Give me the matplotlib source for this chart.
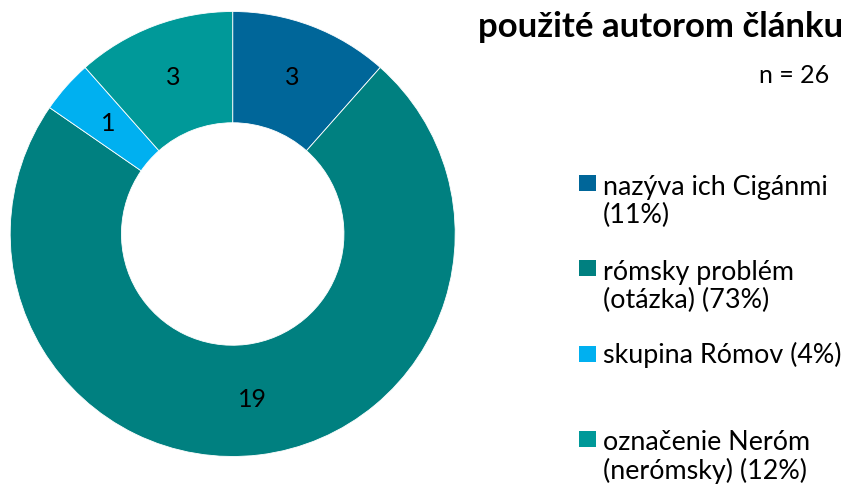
import numpy as np
import matplotlib.pyplot as plt
from matplotlib.patches import Rectangle

plt.rcParams['font.family'] = ['Lato', 'DejaVu Sans']

# data
categories = ["nazýva ich Cigánmi\n(11%)", "rómsky problém\n(otázka) (73%)",
              "skupina Rómov (4%)", "označenie Neróm\n(nerómsky) (12%)"]
counts = [3, 19, 1, 3]
colors = ["#006699", "#008080", "#00B0F0", "#009999"]
title = "použité autorom článku"
subtitle = "n = 26"

W, H = 848, 491
fig = plt.figure(figsize=(W / 100, H / 100), dpi=100)

# donut axes (pixel geometry)
cx, cy, r = 232.7, 234, 222.5
ax = fig.add_axes([(cx - r) / W, (H - cy - r) / H, 2 * r / W, 2 * r / H])
wedges, texts = ax.pie(counts, colors=colors, startangle=90, counterclock=False,
                       radius=1.0, wedgeprops=dict(width=0.5, linewidth=0.6, edgecolor="white"))
for w, v in zip(wedges, counts):
    ang = np.deg2rad((w.theta1 + w.theta2) / 2)
    ax.text(0.75 * np.cos(ang), 0.75 * np.sin(ang), str(v), ha="center", va="center",
            fontsize=18, color="black")
ax.set_xlim(-1, 1)
ax.set_ylim(-1, 1)
ax.set_aspect("equal")
ax.axis("off")

# title
fig.text(843 / W, 1 - 37 / H, title, ha="right", va="baseline", fontsize=25, fontweight="bold")
fig.text(829 / W, 1 - 83 / H, subtitle, ha="right", va="baseline", fontsize=18)

# legend, placed by hand (y = baseline of first line, px from top)
ys = [192, 277, 363, 448]
line_px = 31
for lab, col, y in zip(categories, colors, ys):
    fig.patches.append(Rectangle((579 / W, 1 - (y - 1) / H), 17 / W, 16 / H,
                                 transform=fig.transFigure, facecolor=col, edgecolor="none"))
    y_last = y + lab.count("\n") * line_px
    fig.text(603 / W, 1 - y_last / H, lab, ha="left", va="baseline", fontsize=19.4,
             linespacing=1.5 * line_px / 41)

fig.savefig("out.png", dpi=100)
